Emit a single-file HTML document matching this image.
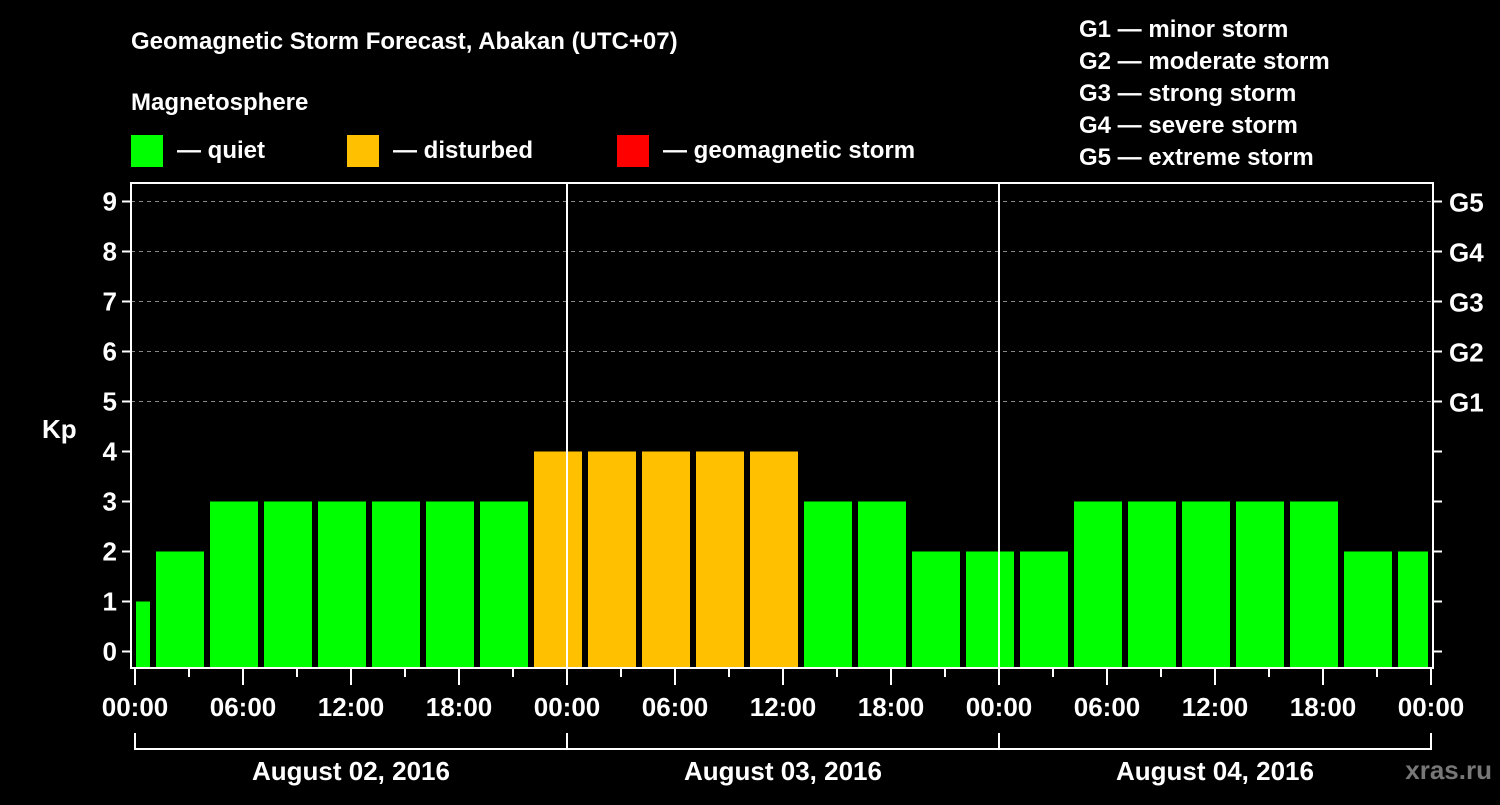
<!DOCTYPE html>
<html><head><meta charset="utf-8"><style>
body{margin:0;background:#000;width:1500px;height:800px;overflow:hidden}
svg text{font-family:"Liberation Sans",sans-serif;font-weight:bold;fill:#fff}
</style></head><body>
<svg id="chart" width="1500" height="800" xmlns="http://www.w3.org/2000/svg">
<text x="131" y="49" font-size="24">Geomagnetic Storm Forecast, Abakan (UTC+07)</text>
<text x="131" y="110" font-size="24">Magnetosphere</text>
<rect x="131" y="135" width="32" height="32" fill="#00ff00"/>
<text x="177" y="158" font-size="24">— quiet</text>
<rect x="347" y="135" width="32" height="32" fill="#ffc000"/>
<text x="393" y="158" font-size="24">— disturbed</text>
<rect x="617" y="135" width="32" height="32" fill="#ff0000"/>
<text x="663" y="158" font-size="24">— geomagnetic storm</text>
<g font-size="24">
<text x="1079" y="37">G1 — minor storm</text>
<text x="1079" y="69">G2 — moderate storm</text>
<text x="1079" y="101">G3 — strong storm</text>
<text x="1079" y="133">G4 — severe storm</text>
<text x="1079" y="165">G5 — extreme storm</text>
</g>
<text x="42" y="438" font-size="26">Kp</text>
<text x="1492" y="779" font-size="26" text-anchor="end" fill="#777" style="fill:#777">xras.ru</text>
<g id="plot"></g>
</svg>
<script>
const dayLabels = ["August 02, 2016","August 03, 2016","August 04, 2016"];
const barStartHours = [0,1,4,7,10,13,16,19,22,25,28,31,34,37,40,43,46,49,52,55,58,61,64,67,70];
const barEndHours   = [1,4,7,10,13,16,19,22,25,28,31,34,37,40,43,46,49,52,55,58,61,64,67,70,72];
const kpValues      = [1,2,3,3,3,3,3,3,4,4,4,4,4,3,3,2,2,2,3,3,3,3,3,2,2];
const yTicks = [0,1,2,3,4,5,6,7,8,9];
const gLabels = ["","","","","","G1","G2","G3","G4","G5"];
const xTickLabels = ["00:00","06:00","12:00","18:00"];

const NS="http://www.w3.org/2000/svg";
const g=document.getElementById('plot');
const X0=135, PX_H=18, L=131, R=1433, T=183, B=668;
const xs=h=>X0+h*PX_H;
const ys=v=>651.5-v*50;
function mk(tag,attrs,txt){const e=document.createElementNS(NS,tag);for(const k in attrs)e.setAttribute(k,attrs[k]);if(txt!==undefined)e.textContent=txt;g.appendChild(e);return e;}
function color(v){return v>=5?'#ff0000':(v>=4?'#ffc000':'#00ff00');}

yTicks.forEach(v=>{
  if(v>=5){const l=mk('line',{x1:L,x2:R,y1:ys(v),y2:ys(v),stroke:'#888','stroke-width':1,'stroke-dasharray':'4,4'});
  
  }
  const t1=mk('line',{x1:L-9,x2:L,y1:ys(v),y2:ys(v),stroke:'#fff','stroke-width':2});
  
  
  const t2=mk('line',{x1:R,x2:R+9,y1:ys(v),y2:ys(v),stroke:'#fff','stroke-width':2});
  
  
  const lb=mk('text',{x:L-14,y:ys(v)+9,'font-size':26,'text-anchor':'end'},String(v));
  
  
  if(gLabels[v]){const gl=mk('text',{x:1449,y:ys(v)+10,'font-size':26},gLabels[v]);
  
  }
});

kpValues.forEach((v,i)=>{
  const x1=xs(barStartHours[i])+(i===0?1:3), x2=xs(barEndHours[i])-3;
  const r=mk('rect',{x:x1,y:ys(v),width:x2-x1,height:B-1-ys(v),fill:color(v)});
  
  
});

[1,2].forEach(d=>{const l=mk('line',{x1:xs(24*d),x2:xs(24*d),y1:T,y2:B,stroke:'#fff','stroke-width':2});
  
  });

const fr=mk('rect',{x:L,y:T,width:R-L,height:B-T,fill:'none',stroke:'#fff','stroke-width':2});



for(let h=0;h<=72;h+=3){
  const major=h%6===0;
  const t=mk('line',{x1:xs(h),x2:xs(h),y1:B,y2:B+(major?17:9),stroke:'#fff','stroke-width':2});
  
  
  if(major){const lb=mk('text',{x:xs(h),y:716,'font-size':26,'text-anchor':'middle'},xTickLabels[(h%24)/6]);
    
    }
}
const br=mk('path',{d:`M${xs(0)} 733V749H${xs(72)}V733`,fill:'none',stroke:'#fff','stroke-width':2});


for(let d=1;d<3;d++){const l=mk('line',{x1:xs(24*d),x2:xs(24*d),y1:733,y2:749,stroke:'#fff','stroke-width':2});
  
  }
dayLabels.forEach((s,d)=>{const t=mk('text',{x:xs(24*d+12),y:780,'font-size':26,'text-anchor':'middle'},s);
  
  });
</script>
</body></html>
